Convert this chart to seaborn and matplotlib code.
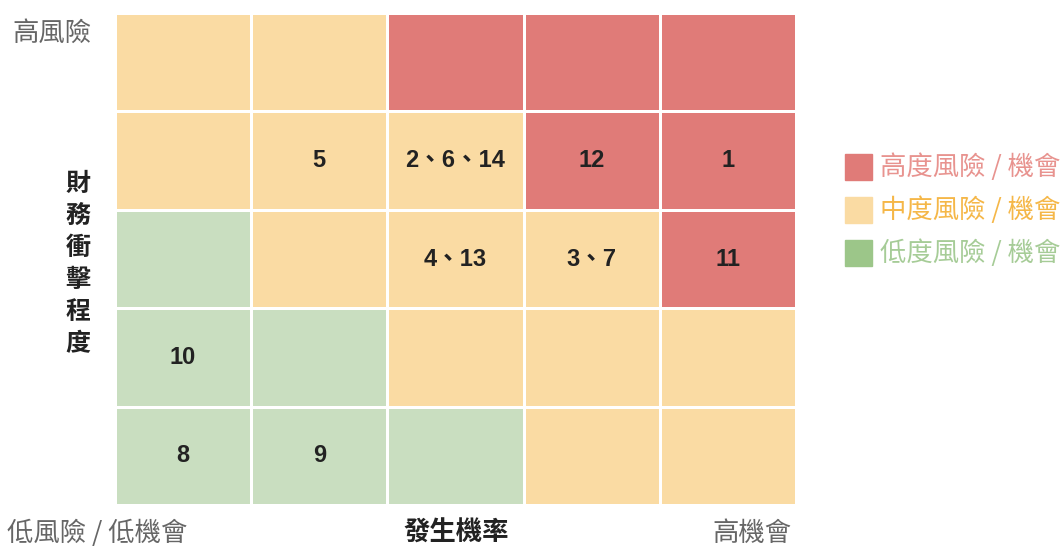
import numpy as np
import pandas as pd
import matplotlib
matplotlib.use("Agg")
import matplotlib.pyplot as plt
import seaborn as sns
from matplotlib.colors import ListedColormap
from matplotlib.patches import Rectangle

# 風險等級: 0 = 低, 1 = 中, 2 = 高 (由上而下為高到低衝擊)
levels = [
    [1, 1, 2, 2, 2],
    [1, 1, 1, 2, 2],
    [0, 1, 1, 1, 2],
    [0, 0, 1, 1, 1],
    [0, 0, 0, 1, 1],
]
labels = [
    ["", "", "", "", ""],
    ["", "5", "2、6、14", "12", "1"],
    ["", "", "4、13", "3、7", "11"],
    ["10", "", "", "", ""],
    ["8", "9", "", "", ""],
]
cell_colors = ["#C9DEC0", "#FADBA3", "#E07B78"]
legend_names = ["高度風險 / 機會", "中度風險 / 機會", "低度風險 / 機會"]
legend_box = ["#E07B78", "#FADBA3", "#9CC689"]
legend_text = ["#E8938F", "#F5B748", "#A6CC97"]

sns.set_theme(style="white")
plt.rcParams["font.family"] = ["Noto Sans CJK TC", "DejaVu Sans"]

fig = plt.figure(figsize=(10.62, 5.46), dpi=100)
ax = fig.add_axes([115 / 1062, 1 - 505 / 546, 681 / 1062, 492 / 546])

df = pd.DataFrame(levels)
sns.heatmap(df, ax=ax, cmap=ListedColormap(cell_colors), vmin=-0.5, vmax=2.5,
            annot=np.array(labels), fmt="", cbar=False, linewidths=1,
            linecolor="white",
            annot_kws={"fontsize": 17, "fontweight": "bold", "color": "#222222",
                       "family": ["Liberation Sans", "Noto Sans CJK TC"]})
ax.set_xticks([])
ax.set_yticks([])
ax.set_xlabel("")
ax.set_ylabel("")

gray = "#666666"
fs = 19
fig.text(52 / 1062, 1 - 33 / 546, "高風險", fontsize=fs, color=gray, ha="center", va="center",
         fontweight="light")
fig.text(97 / 1062, 1 - 533 / 546, "低風險 / 低機會", fontsize=fs, color=gray, ha="center", va="center",
         fontweight="light")
fig.text(752 / 1062, 1 - 533 / 546, "高機會", fontsize=fs, color=gray, ha="center", va="center",
         fontweight="light")
fig.text(456 / 1062, 1 - 533 / 546, "發生機率", fontsize=fs, color="#222222",
         fontweight="bold", ha="center", va="center")
fig.text(78 / 1062, 1 - 264 / 546, "\n".join("財務衝擊程度"), fontsize=18, color="#222222",
         fontweight="bold", ha="center", va="center", linespacing=1.42)

for i, (name, box, tc) in enumerate(zip(legend_names, legend_box, legend_text)):
    yc = 167 + i * 43
    fig.patches.append(Rectangle((845 / 1062, 1 - (yc + 13) / 546), 27 / 1062, 26 / 546,
                                 transform=fig.transFigure, color=box, figure=fig))
    fig.text(880 / 1062, 1 - yc / 546, name, fontsize=fs, color=tc, ha="left", va="center",
             fontweight="light")

fig.savefig("out.png", dpi=100)
